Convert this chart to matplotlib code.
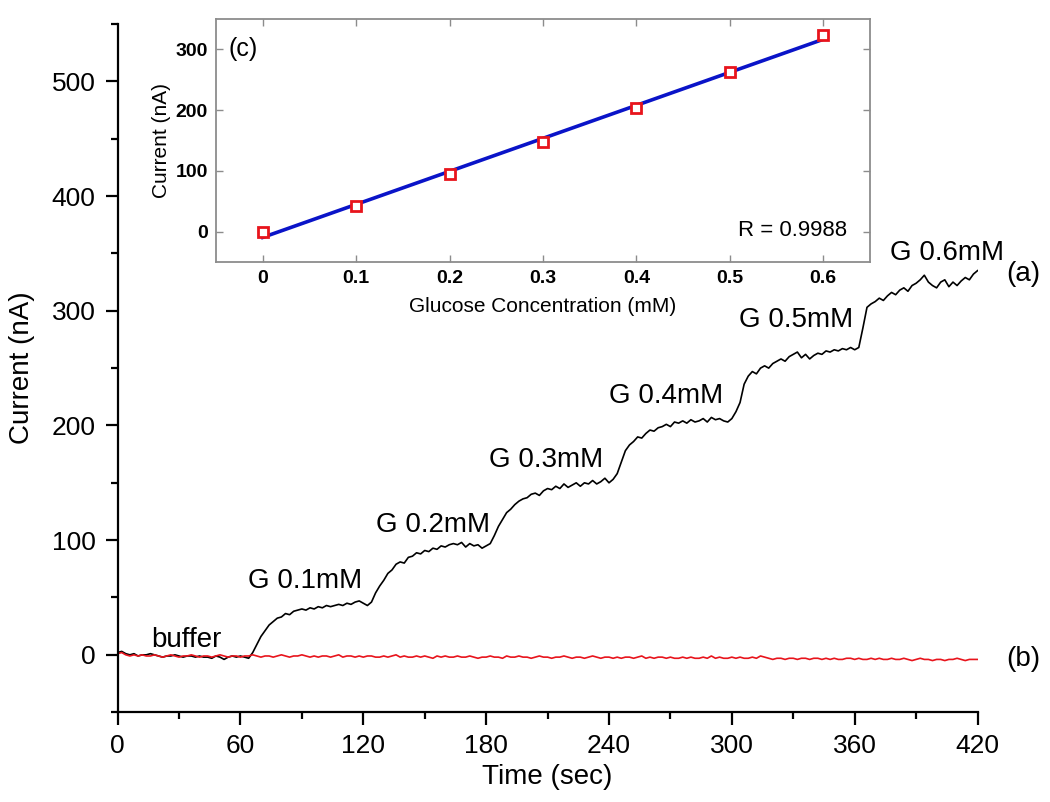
import matplotlib
matplotlib.use('Agg')
import matplotlib.pyplot as plt
import numpy as np
from matplotlib.ticker import MultipleLocator

plt.rcParams['font.family'] = ['Liberation Sans', 'DejaVu Sans']

# Amperometric response, read every 2 s from 0 to 420 s
# (a) successive glucose additions
current_a = [
    2, 3, 1, 0, 1, -1, 0, 0, 1, 0,
    -1, -2, -1, -1, 0, -1, -2, -1, -1, -2,
    -1, -2, -2, -3, -1, -2, -4, -2, -1, -2,
    -1, -2, -3,
    2, 9, 16, 21, 26, 29, 32, 33, 36, 35,
    38, 39, 40, 39, 41, 40, 42, 41, 43, 42,
    43, 44, 43, 45, 44, 46, 47, 45,
    43, 46, 54, 60, 65, 71, 74, 79, 81, 80,
    85, 86, 89, 88, 91, 90, 93, 92, 95, 94,
    96, 97, 96, 98, 94, 97, 95, 96, 93, 95,
    97, 104, 112, 118, 124, 127, 131, 134, 136, 137,
    140, 141, 139, 143, 145, 144, 147, 145, 149, 146,
    148, 150, 147, 150, 149, 152, 149, 151, 154, 150,
    153, 158, 168, 178, 183, 186, 190, 189, 193, 196,
    195, 198, 199, 201, 199, 203, 202, 204, 202, 205,
    203, 204, 206, 203, 207, 205, 206, 204, 203, 206,
    212, 220, 236, 243, 247, 245, 250, 252, 250, 254,
    256, 258, 256, 260, 262, 264, 259, 262, 258, 261,
    263, 262, 265, 264, 266, 265, 267, 266, 268, 266,
    268, 285, 303, 306, 308, 311, 309, 313, 316, 314,
    318, 320, 317, 322, 324, 327, 331, 325, 322, 320,
    325, 327, 321, 325, 322, 326, 329, 327, 332, 335,
]
# (b) control
current_b = [
    1, 2, 0, -1, 0, -1, 0, -1, -1, 0,
    -1, -2, -1, 0, -1, -2, -1, -1, 0, -1,
    -2, -1, -1, -2, -1, 0, -1, -2, -1, -1,
    -2, -1, -1, 0, -1, -2, -1, -1, -2, -1,
    0, -1, -2, -1, -1, 0, -1, -2, -1, -2,
    -1, -1, -2, -1, 0, -2, -1, -1, -2, -1,
    -2, -1, -1, -2, -2, -1, -2, -1, 0, -2,
    -1, -2, -2, -1, -2, -1, -2, -3, -1, -2,
    -1, -2, -2, -1, -2, -2, -1, -2, -3, -2,
    -2, -1, -2, -2, -3, -1, -2, -2, -1, -2,
    -2, -3, -2, -1, -2, -2, -3, -2, -2, -1,
    -2, -3, -2, -2, -3, -2, -1, -2, -3, -2,
    -2, -3, -2, -3, -2, -2, -3, -2, -1, -3,
    -2, -3, -2, -2, -3, -2, -3, -3, -2, -3,
    -2, -3, -3, -2, -3, -1, -3, -2, -3, -3,
    -2, -3, -2, -3, -3, -2, -3, -1, -2, -3,
    -4, -3, -3, -4, -3, -3, -4, -3, -3, -4,
    -3, -3, -4, -3, -4, -3, -4, -4, -3, -3,
    -4, -3, -4, -4, -3, -4, -3, -4, -4, -3,
    -4, -4, -3, -4, -5, -4, -3, -4, -4, -5,
    -4, -4, -5, -4, -4, -3, -4, -5, -4, -4,
    -4,
]
time_a = np.linspace(0, 420, len(current_a))
time_b = np.linspace(0, 420, len(current_b))

step_labels = ['G 0.1mM', 'G 0.2mM', 'G 0.3mM', 'G 0.4mM', 'G 0.5mM', 'G 0.6mM']
step_label_t = [63.5, 126, 181.5, 240, 303.5, 377]
step_label_y = [58, 107, 164, 220, 286, 344]

# (c) calibration
conc = [0, 0.1, 0.2, 0.3, 0.4, 0.5, 0.6]
conc_current = [0, 42, 95, 148, 203, 263, 324]

fig = plt.figure(figsize=(10.5, 8.02), dpi=100)
ax = fig.add_axes([0.112, 0.112, 0.819, 0.858])

ax.plot(time_a, current_a, color='black', lw=1.2)
ax.plot(time_b, current_b, color='#e8141c', lw=1.2)

ax.set_xlim(0, 420)
ax.set_ylim(-50, 550)
ax.xaxis.set_major_locator(MultipleLocator(60))
ax.xaxis.set_minor_locator(MultipleLocator(30))
ax.yaxis.set_major_locator(MultipleLocator(100))
ax.yaxis.set_minor_locator(MultipleLocator(50))
for s in ['top', 'right']:
    ax.spines[s].set_visible(False)
for s in ['left', 'bottom']:
    ax.spines[s].set_linewidth(1.6)
ax.tick_params(which='major', direction='out', length=9, width=1.6, labelsize=19, pad=7)
ax.tick_params(which='minor', direction='out', length=5, width=1.6)
ax.set_xlabel('Time (sec)', fontsize=20, labelpad=4)
ax.set_ylabel('Current (nA)', fontsize=20, labelpad=12)

ax.text(16.5, 7, 'buffer', fontsize=20, va='baseline', ha='left')
for lab, tx, ty in zip(step_labels, step_label_t, step_label_y):
    ax.text(tx, ty, lab, fontsize=20, va='baseline', ha='left')
ax.text(434, 332, '(a)', fontsize=20, va='center', ha='left', clip_on=False)
ax.text(434, -3.5, '(b)', fontsize=20, va='center', ha='left', clip_on=False)

# inset
ins = fig.add_axes([0.2057, 0.6733, 0.6229, 0.303])
slope, intercept = np.polyfit(conc, conc_current, 1)
fit_x = np.array([conc[0], conc[-1]])
ins.plot(fit_x, slope * fit_x + intercept, color='#0a14c8', lw=2.6, zorder=2)
ins.plot(conc, conc_current, ls='none', marker='s', ms=7, mfc='white',
         mec='#e8141c', mew=2, zorder=3)
ins.set_xlim(-0.05, 0.65)
ins.set_ylim(-50, 350)
ins.set_xticks(conc)
ins.set_xticklabels(['0', '0.1', '0.2', '0.3', '0.4', '0.5', '0.6'])
ins.set_yticks([0, 100, 200, 300])
for s in ins.spines.values():
    s.set_color('#8c8c8c')
    s.set_linewidth(1.3)
ins.tick_params(direction='in', length=5, width=1, color='#8c8c8c',
                top=True, right=True, labelsize=14, pad=6)
for lab in ins.get_xticklabels() + ins.get_yticklabels():
    lab.set_fontweight('bold')
ins.set_xlabel('Glucose Concentration (mM)', fontsize=15, labelpad=7)
ins.set_ylabel('Current (nA)', fontsize=15, labelpad=3)
ins.text(-0.037, 300, '(c)', fontsize=18, va='center', ha='left')
ins.text(0.626, 2, 'R = 0.9988', fontsize=16, va='center', ha='right')

fig.savefig('out.png', dpi=100)
